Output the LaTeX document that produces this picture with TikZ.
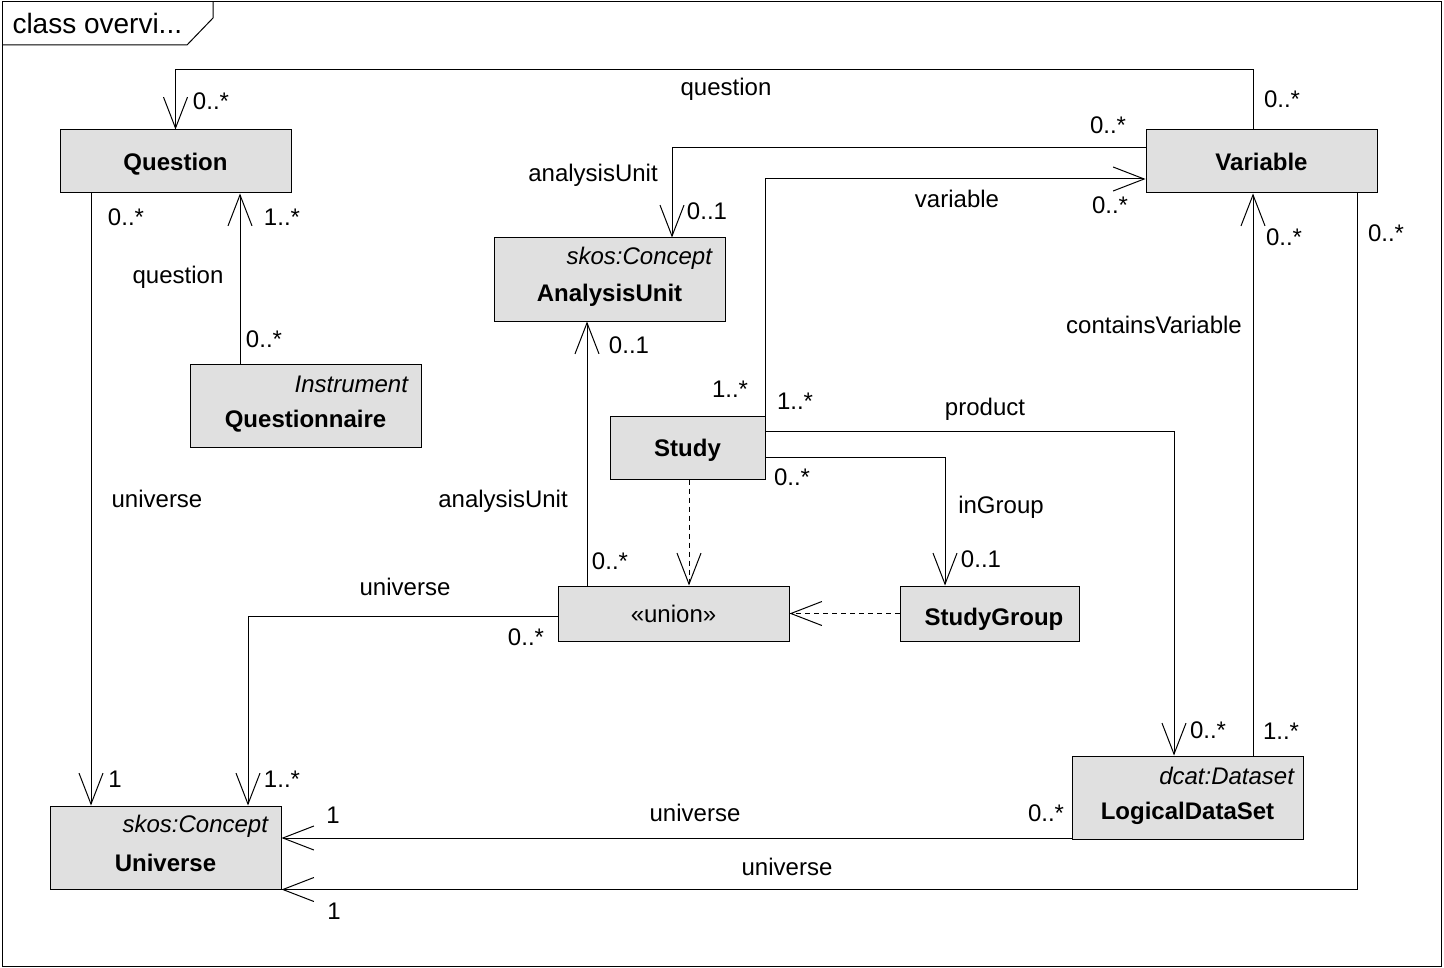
\documentclass[tikz,border=0pt]{standalone}
\usepackage{fontspec}
\setmainfont{Liberation Sans}
\usetikzlibrary{arrows.meta,calc}

\definecolor{boxgray}{RGB}{224,224,224}

\begin{document}
\begin{tikzpicture}[x=0.5pt,y=-0.5pt,line width=0.5pt,
  every node/.style={font=\fontsize{12}{14}\selectfont},
  cls/.style={draw, fill=boxgray, minimum width=115.5pt, minimum height=31.5pt, inner sep=0pt,
    text height=8.6pt, text depth=0pt, font=\fontsize{12}{14}\selectfont\bfseries},
  clstall/.style={cls, minimum height=41.5pt},
  stereo/.style={font=\fontsize{12}{14}\selectfont\itshape, anchor=east, inner sep=0pt},
  clsname/.style={font=\fontsize{12}{14}\selectfont\bfseries, inner sep=0pt},
  lbl/.style={inner sep=0pt},
  assoc/.style={-{Straight Barb[length=15.5pt,width=12pt]}},
  dep/.style={assoc, dash pattern=on 2.5pt off 2pt},
]
  \useasboundingbox (0,0) rectangle (1444,968);
  \draw (2,2) rectangle (1441,966);
  \draw (2,45) -- (187,45) -- (213,18) -- (213,2);
  \node[font=\fontsize{14}{16}\selectfont, anchor=west, inner sep=0pt] (title) at (12,23) {class overvi...};

  \node[cls] (question) at (175.5,161.5) {Question};
  \node[cls] (variable) at (1261.5,161.5) {Variable};
  \node[clstall] (analysisunit) at (609.5,279.5) {};
  \node[clstall] (questionnaire) at (305.5,405.5) {};
  \node[cls, minimum width=77.5pt] (study) at (687.5,447.5) {Study};
  \node[cls, minimum height=27.5pt, font=\fontsize{12}{14}\selectfont] (union) at (673.5,613.5) {«union»};
  \node[cls, minimum width=89.5pt, minimum height=27.5pt] (studygroup) at (989.5,613.5) {};
  \node[clstall] (logicaldataset) at (1187.5,797.5) {};
  \node[clstall] (universe) at (165.5,847.5) {};

  \node[clsname] (studygroup-nm) at ([xshift=2.25pt,yshift=-2.75pt]studygroup.center) {StudyGroup};
  \node[stereo] (analysisunit-st) at ([xshift=-6.5pt,yshift=10.75pt]analysisunit.east) {skos:Concept};
  \node[clsname] (analysisunit-nm) at ([yshift=-7.75pt]analysisunit.center) {AnalysisUnit};
  \node[stereo] (questionnaire-st) at ([xshift=-6.5pt,yshift=10.75pt]questionnaire.east) {Instrument};
  \node[clsname] (questionnaire-nm) at ([yshift=-7.75pt]questionnaire.center) {Questionnaire};
  \node[stereo] (logicaldataset-st) at ([xshift=-4.5pt,yshift=10.75pt]logicaldataset.east) {dcat:Dataset};
  \node[clsname] (logicaldataset-nm) at ([yshift=-7.75pt]logicaldataset.center) {LogicalDataSet};
  \node[stereo] (universe-st) at ([xshift=-6.5pt,yshift=10.75pt]universe.east) {skos:Concept};
  \node[clsname] (universe-nm) at ([yshift=-7.75pt]universe.center) {Universe};

  \draw[assoc] ([xshift=-4.25pt]variable.north) -- ++(0,-60) -| (question.north);
  \draw[assoc] ([yshift=6.75pt]variable.west) -| ([xshift=31.25pt]analysisunit.north);
  \draw[assoc] (study.north east) |- ([yshift=-8.75pt]variable.west);
  \draw[assoc] ([xshift=-32.75pt]questionnaire.north) -- ([xshift=-32.75pt]questionnaire.north |- question.south);
  \draw[assoc] ([xshift=-42.25pt]question.south) -- ([xshift=-42.25pt]question.south |- universe.north);
  \draw[assoc] ([xshift=-43.25pt]union.north) -- ([xshift=-43.25pt]union.north |- analysisunit.south);
  \draw[assoc] ([yshift=-1.25pt]union.west) -| ([xshift=41.25pt]universe.north);
  \draw[dep] ([xshift=0.75pt]study.south) -- ([xshift=0.75pt]study.south |- union.north);
  \draw[dep] (studygroup.west) -- (union.east);
  \draw[assoc] ([yshift=-4.75pt]study.east) -| ([xshift=-22.25pt]studygroup.north);
  \draw[assoc] ([yshift=8.25pt]study.east) -| ([xshift=-6.75pt]logicaldataset.north);
  \draw[assoc] ([xshift=32.75pt]logicaldataset.north) -- ([xshift=32.75pt]logicaldataset.north |- variable.south);
  \draw[assoc] ([yshift=-20.25pt]logicaldataset.west) -- ([yshift=-20.25pt]logicaldataset.west -| universe.east);
  \draw[assoc] ([xshift=47.75pt]variable.south) |- (universe.south east);

  \node[lbl] (q-role) at (726,89) {question};
  \node[lbl] (q-src) at (1282,99) {0..*};
  \node[lbl] (q-dst) at (211,101) {0..*};
  \node[lbl] (au-src) at (1108,125) {0..*};
  \node[lbl] (au-role) at (593,175) {analysisUnit};
  \node[lbl] (au-dst) at (707,211) {0..1};
  \node[lbl] (v-role) at (957,199) {variable};
  \node[lbl] (v-dst) at (1110,205) {0..*};
  \node[lbl] (v-src) at (730,389) {1..*};
  \node[lbl] (cv-dst) at (1284,237) {0..*};
  \node[lbl] (cv-role) at (1154,325) {containsVariable};
  \node[lbl] (cv-src) at (1281,731) {1..*};
  \node[lbl] (vu-src) at (1386,233) {0..*};
  \node[lbl] (vu-role) at (787,867) {universe};
  \node[lbl] (vu-dst) at (334,911) {1};
  \node[lbl] (qu-src) at (126,217) {0..*};
  \node[lbl] (qu-role) at (157,499) {universe};
  \node[lbl] (qu-dst) at (115,779) {1};
  \node[lbl] (qq-dst) at (282,217) {1..*};
  \node[lbl] (qq-role) at (178,277) {question};
  \node[lbl] (qq-src) at (264,339) {0..*};
  \node[lbl] (ua-dst) at (629,345) {0..1};
  \node[lbl] (ua-role) at (503,501) {analysisUnit};
  \node[lbl] (ua-src) at (610,561) {0..*};
  \node[lbl] (p-src) at (795,401) {1..*};
  \node[lbl] (p-role) at (985,409) {product};
  \node[lbl] (p-dst) at (1208,730) {0..*};
  \node[lbl] (g-src) at (792,477) {0..*};
  \node[lbl] (g-role) at (1001,507) {inGroup};
  \node[lbl] (g-dst) at (981,559) {0..1};
  \node[lbl] (uu-role) at (405,587) {universe};
  \node[lbl] (uu-src) at (526,637) {0..*};
  \node[lbl] (uu-dst) at (282,779) {1..*};
  \node[lbl] (lu-role) at (695,813) {universe};
  \node[lbl] (lu-dst) at (333,815) {1};
  \node[lbl] (lu-src) at (1046,813) {0..*};
\end{tikzpicture}
\end{document}
